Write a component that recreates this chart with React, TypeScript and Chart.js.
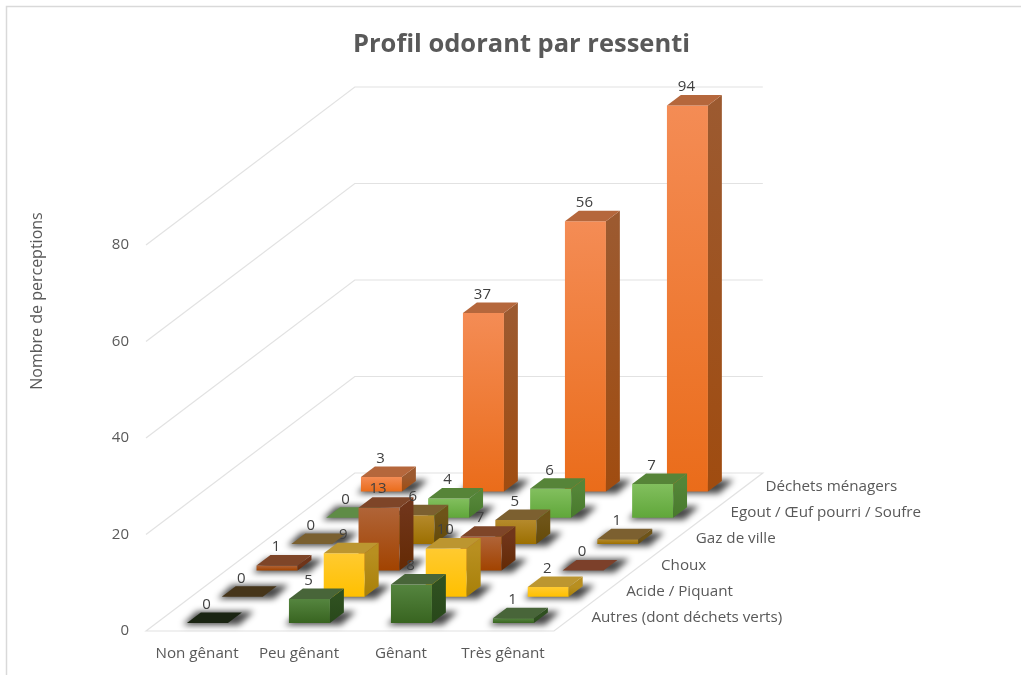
import React, { useEffect, useRef } from "react";
import { Chart, registerables } from "chart.js";

Chart.register(...registerables);

const categories = ["Non gênant", "Peu gênant", "Gênant", "Très gênant"];
const seriesNames = [
  "Autres (dont déchets verts)",
  "Acide / Piquant",
  "Choux",
  "Gaz de ville",
  "Egout / Œuf pourri / Soufre",
  "Déchets ménagers",
];
const autres = [0, 5, 8, 1];
const acide = [0, 9, 10, 2];
const choux = [1, 13, 7, 0];
const gaz = [0, 6, 5, 1];
const egout = [0, 4, 6, 7];
const dechets = [3, 37, 56, 94];
const seriesValues = [autres, acide, choux, gaz, egout, dechets];

const yTicks = { min: 0, max: 80, step: 20 };

// front top, front bottom, side top, side bottom, top face, flat (value 0) face
const palette = [
  ["#55853f", "#386420", "#2f5020", "#28481a", "#486539", "#1a2412"],
  ["#ffca30", "#ffc000", "#b88f20", "#a88008", "#bc9630", "#46351a"],
  ["#b06438", "#a24300", "#70351a", "#642a04", "#7e4528", "#7c402a"],
  ["#b58a2c", "#9c6f00", "#6e5418", "#654a08", "#7c6030", "#7a6030"],
  ["#82bf5e", "#60a73a", "#548538", "#487a2c", "#568438", "#5f8c46"],
  ["#f48c55", "#ea6c1a", "#9c5a30", "#a04c10", "#b5673c", "#b5673c"],
];

const DEPTH_X = 34.8;
const DEPTH_Y = 26.33;
const GAP = 0.3;
const THICK = 0.4;
const FONT = "'Open Sans', sans-serif";
const GRID = "#e2e2e2";
const TEXT_SIZE = 15.2;

const poly = (ctx: CanvasRenderingContext2D, pts: number[][], fill: any) => {
  ctx.beginPath();
  pts.forEach((p, i) => (i ? ctx.lineTo(p[0], p[1]) : ctx.moveTo(p[0], p[1])));
  ctx.closePath();
  ctx.fillStyle = fill;
  ctx.fill();
};

const frame3d = {
  id: "frame3d",
  beforeDraw(chart: any) {
    const { ctx, chartArea: a, scales } = chart;
    ctx.save();
    ctx.fillStyle = "#fff";
    ctx.fillRect(0, 0, chart.width, chart.height);
    ctx.strokeStyle = "#d9d9d9";
    ctx.lineWidth = 1.5;
    ctx.beginPath();
    ctx.moveTo(6.5, chart.height + 2);
    ctx.lineTo(6.5, 6.5);
    ctx.lineTo(chart.width + 2, 6.5);
    ctx.stroke();

    const dx = DEPTH_X * seriesNames.length;
    const dy = DEPTH_Y * seriesNames.length;
    ctx.strokeStyle = GRID;
    ctx.lineWidth = 1.2;
    for (let v = yTicks.min; v <= yTicks.max; v += yTicks.step) {
      const y = scales.y.getPixelForValue(v);
      ctx.beginPath();
      ctx.moveTo(a.left, y);
      ctx.lineTo(a.left + dx, y - dy);
      ctx.lineTo(a.right + dx, y - dy);
      if (v === 0) {
        ctx.lineTo(a.right, y);
        ctx.closePath();
      }
      ctx.stroke();
    }

    ctx.fillStyle = "#595959";
    ctx.font = `${TEXT_SIZE}px ${FONT}`;
    ctx.textAlign = "left";
    ctx.textBaseline = "middle";
    const y0 = scales.y.getPixelForValue(0);
    seriesNames.forEach((n, s) => {
      ctx.fillText(n, a.right + (s + 0.5) * DEPTH_X + 20, y0 - (s + 0.5) * DEPTH_Y);
    });

    ctx.translate(37, 301);
    ctx.rotate(-Math.PI / 2);
    ctx.textAlign = "center";
    ctx.font = `16px ${FONT}`;
    ctx.fillText("Nombre de perceptions", 0, 0);
    ctx.restore();
  },
  beforeDatasetsDraw(chart: any) {
    const { ctx, chartArea: a } = chart;
    ctx.save();
    const labels: any[] = [];
    for (let s = seriesNames.length - 1; s >= 0; s--) {
      const meta = chart.getDatasetMeta(s);
      const col = palette[s];
      meta.data.forEach((el: any, i: number) => {
        const p = el.getProps(["x", "y", "base", "width"], true);
        const ox = (s + GAP) * DEPTH_X;
        const oy = -(s + GAP) * DEPTH_Y;
        const ex = THICK * DEPTH_X;
        const ey = -THICK * DEPTH_Y;
        const l = p.x - p.width / 2 + ox;
        const r = p.x + p.width / 2 + ox;
        const b = p.base + oy;
        const t = Math.max(p.y, a.top) + oy;

        ctx.save();
        ctx.filter = "blur(3px)";
        poly(
          ctx,
          [
            [l - 4, b + 2],
            [r + 11, b + 2],
            [r + ex + 12, b + ey - 1],
            [l + ex - 4, b + ey - 1],
          ],
          "rgba(0,0,0,0.72)"
        );
        ctx.restore();

        const value = seriesValues[s][i];
        if (value > 0) {
          const gf = ctx.createLinearGradient(0, t, 0, b);
          gf.addColorStop(0, col[0]);
          gf.addColorStop(1, col[1]);
          poly(ctx, [[l, t], [r, t], [r, b], [l, b]], gf);
          const gs = ctx.createLinearGradient(0, t, 0, b);
          gs.addColorStop(0, col[2]);
          gs.addColorStop(1, col[3]);
          poly(ctx, [[r, t], [r + ex, t + ey], [r + ex, b + ey], [r, b]], gs);
        }
        poly(
          ctx,
          [[l, t], [r, t], [r + ex, t + ey], [l + ex, t + ey]],
          value > 0 ? col[4] : col[5]
        );
        labels.push({ x: (l + r) / 2 - 1, y: t - 18.5, text: String(value) });
      });
    }
    ctx.fillStyle = "#404040";
    ctx.font = `15px ${FONT}`;
    ctx.textAlign = "center";
    ctx.textBaseline = "middle";
    labels.forEach((d) => ctx.fillText(d.text, d.x, d.y));
    ctx.restore();
    return false;
  },
};

export default function App() {
  const ref = useRef<HTMLCanvasElement>(null);
  useEffect(() => {
    document.body.style.margin = "0";
    const chart = new Chart(ref.current as HTMLCanvasElement, {
      type: "bar",
      data: {
        labels: categories,
        datasets: seriesNames.map((label, s) => ({
          label,
          data: seriesValues[s],
          grouped: false,
          categoryPercentage: 1,
          barPercentage: 0.402,
          backgroundColor: palette[s][1],
        })),
      },
      options: {
        responsive: false,
        animation: false,
        layout: { padding: { left: 22, right: 0, top: 0, bottom: 0 } },
        plugins: {
          legend: { display: false },
          tooltip: { enabled: false },
          title: {
            display: true,
            text: "Profil odorant par ressenti",
            color: "#595959",
            font: { family: FONT, size: 25.5, weight: "bold", lineHeight: 1.2 },
            padding: { top: 29, bottom: 185.4 },
          },
        },
        scales: {
          x: {
            type: "category",
            grid: { display: false },
            border: { display: false },
            ticks: {
              color: "#595959",
              font: { family: FONT, size: TEXT_SIZE },
              padding: 6,
              maxRotation: 0,
              autoSkip: false,
            },
            afterFit: (s: any) => {
              s.height = 44;
            },
          },
          y: {
            min: yTicks.min,
            max: yTicks.max,
            grid: { display: false, drawTicks: false },
            border: { display: false },
            ticks: {
              stepSize: yTicks.step,
              color: "#595959",
              font: { family: FONT, size: 15 },
              padding: 17,
            },
            afterFit: (s: any) => {
              s.width = 124;
            },
          },
          depth: {
            axis: "y",
            position: "right",
            grid: { display: false },
            border: { display: false },
            ticks: { display: false },
            afterFit: (s: any) => {
              s.width = 467;
            },
          },
        },
      } as any,
      plugins: [frame3d],
    });
    return () => chart.destroy();
  }, []);
  return (
    <canvas
      ref={ref}
      width={1021}
      height={675}
      style={{ display: "block", filter: "blur(0.55px)" }}
    />
  );
}
